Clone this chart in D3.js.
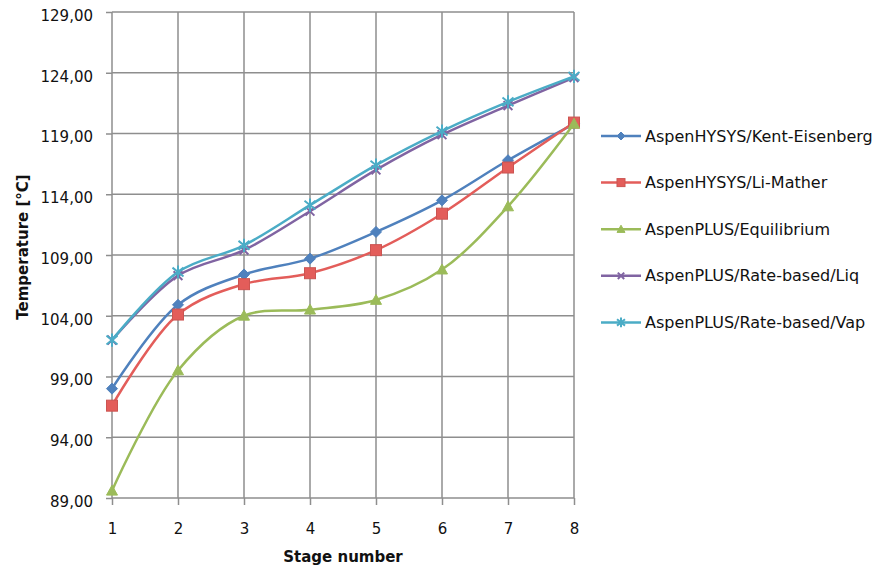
<!DOCTYPE html>
<html>
<head>
<meta charset="utf-8">
<script src="https://cdn.jsdelivr.net/npm/d3@7"></script>
<style>
  body { margin: 0; background: #fff; }
  svg { display: block; font-family: "DejaVu Sans", sans-serif; }
</style>
</head>
<body>
<div id="chart"></div>
<script>
const stages = [1, 2, 3, 4, 5, 6, 7, 8];
const yTicks = [89, 94, 99, 104, 109, 114, 119, 124, 129];

const seriesNames = [
  "AspenHYSYS/Kent-Eisenberg",
  "AspenHYSYS/Li-Mather",
  "AspenPLUS/Equilibrium",
  "AspenPLUS/Rate-based/Liq",
  "AspenPLUS/Rate-based/Vap"
];
const kentEisenberg = [98.0, 104.9, 107.4, 108.7, 110.9, 113.5, 116.8, 119.8];
const liMather = [96.6, 104.1, 106.6, 107.5, 109.4, 112.4, 116.2, 119.9];
const equilibrium = [89.6, 99.5, 104.0, 104.5, 105.3, 107.8, 113.0, 119.8];
const rateLiq = [102.0, 107.3, 109.4, 112.6, 116.0, 118.9, 121.3, 123.6];
const rateVap = [102.0, 107.6, 109.8, 113.1, 116.4, 119.2, 121.6, 123.7];

const colors = ["#4f81bd", "#e35d5a", "#9bbb59", "#8064a2", "#4bacc6"];
const markers = ["diamond", "square", "triangle", "x", "star"];

const width = 885, height = 567;
const margin = { top: 12, right: 311, bottom: 69, left: 112 };

const series = [kentEisenberg, liMather, equilibrium, rateLiq, rateVap].map((vals, i) => ({
  name: seriesNames[i],
  color: colors[i],
  marker: markers[i],
  values: vals.map((v, j) => ({ stage: stages[j], value: v }))
}));

const svg = d3.select("#chart").append("svg")
  .attr("width", width)
  .attr("height", height);

const x = d3.scaleLinear()
  .domain([1, 8])
  .range([margin.left, width - margin.right]);

const y = d3.scaleLinear()
  .domain([89, 129])
  .range([height - margin.bottom, margin.top]);

const gridColor = "#8e8e8e";

// horizontal gridlines + y ticks
svg.append("g")
  .attr("transform", `translate(${margin.left},0)`)
  .call(d3.axisLeft(y).tickValues(yTicks).tickSize(6)
    .tickFormat(d => d3.format(".2f")(d).replace(".", ",")))
  .call(g => g.select(".domain").remove())
  .call(g => g.selectAll(".tick line").attr("stroke", gridColor).attr("stroke-width", 1.5))
  .call(g => g.selectAll(".tick text")
    .attr("x", -19).attr("dy", "0.55em")
    .attr("font-size", 15).attr("font-family", "DejaVu Sans").attr("fill", "#111"));

svg.append("g")
  .selectAll("line")
  .data(yTicks)
  .join("line")
  .attr("x1", margin.left)
  .attr("x2", width - margin.right)
  .attr("y1", d => y(d))
  .attr("y2", d => y(d))
  .attr("stroke", gridColor)
  .attr("stroke-width", 1.5);

// vertical gridlines + x ticks
svg.append("g")
  .attr("transform", `translate(0,${height - margin.bottom})`)
  .call(d3.axisBottom(x).tickValues(stages).tickSize(7).tickFormat(d3.format("d")))
  .call(g => g.select(".domain").remove())
  .call(g => g.selectAll(".tick line").attr("stroke", gridColor).attr("stroke-width", 1.5))
  .call(g => g.selectAll(".tick text")
    .attr("y", 25).attr("dy", "0.71em")
    .attr("font-size", 15).attr("font-family", "DejaVu Sans").attr("fill", "#111"));

svg.append("g")
  .selectAll("line")
  .data(stages)
  .join("line")
  .attr("x1", d => x(d))
  .attr("x2", d => x(d))
  .attr("y1", margin.top)
  .attr("y2", height - margin.bottom)
  .attr("stroke", gridColor)
  .attr("stroke-width", 1.5);

// axis titles
svg.append("text")
  .attr("x", (margin.left + width - margin.right) / 2)
  .attr("y", 562)
  .attr("text-anchor", "middle")
  .attr("font-size", 15)
  .attr("font-weight", "bold")
  .attr("fill", "#111")
  .text("Stage number");

svg.append("text")
  .attr("transform", "translate(28,247) rotate(-90)")
  .attr("text-anchor", "middle")
  .attr("font-size", 15)
  .attr("font-weight", "bold")
  .attr("fill", "#111")
  .text("Temperature [°C]");

// marker shapes
function drawMarker(sel, type, color, r) {
  if (type === "diamond") {
    sel.append("path").attr("d", `M0,${-r}L${r},0L0,${r}L${-r},0Z`).attr("fill", color).attr("stroke", color);
  } else if (type === "square") {
    sel.append("rect").attr("x", -r).attr("y", -r).attr("width", 2 * r).attr("height", 2 * r)
      .attr("fill", color).attr("stroke", d3.color(color).darker(0.3));
  } else if (type === "triangle") {
    sel.append("path").attr("d", `M0,${-r}L${r},${r * 0.8}L${-r},${r * 0.8}Z`).attr("fill", color).attr("stroke", color);
  } else if (type === "x") {
    const a = r * 0.8;
    sel.append("path").attr("d", `M${-a},${-a}L${a},${a}M${-a},${a}L${a},${-a}`).attr("stroke", color).attr("stroke-width", 2);
  } else if (type === "star") {
    sel.append("path").attr("d", `M${-r},${-r * 0.8}L${r},${r * 0.8}M${-r},${r * 0.8}L${r},${-r * 0.8}M0,${-r * 1.2}L0,${r * 1.2}`)
      .attr("stroke", color).attr("stroke-width", 2);
  }
}

const line = d3.line()
  .x(d => x(d.stage))
  .y(d => y(d.value))
  .curve(d3.curveCatmullRom.alpha(0.5));

const sg = svg.append("g")
  .selectAll("g")
  .data(series)
  .join("g");

sg.append("path")
  .attr("fill", "none")
  .attr("stroke", d => d.color)
  .attr("stroke-width", 2.5)
  .attr("d", d => line(d.values));

sg.each(function (s) {
  d3.select(this).selectAll("g.m")
    .data(s.values)
    .join("g")
    .attr("class", "m")
    .attr("transform", d => `translate(${x(d.stage)},${y(d.value)})`)
    .each(function () { drawMarker(d3.select(this), s.marker, s.color, 5.5); });
});

// legend
const legend = svg.append("g")
  .selectAll("g")
  .data(series)
  .join("g")
  .attr("transform", (d, i) => `translate(601,${136 + i * 46.6})`);

legend.append("line")
  .attr("x1", 0).attr("x2", 40)
  .attr("stroke", d => d.color)
  .attr("stroke-width", 2.5);

legend.append("g")
  .attr("transform", "translate(20,0)")
  .each(function (d) { drawMarker(d3.select(this), d.marker, d.color, 4); });

legend.append("text")
  .attr("x", 44)
  .attr("dy", "0.35em")
  .attr("font-size", 16)
  .attr("fill", "#111")
  .text(d => d.name);
</script>
</body>
</html>
